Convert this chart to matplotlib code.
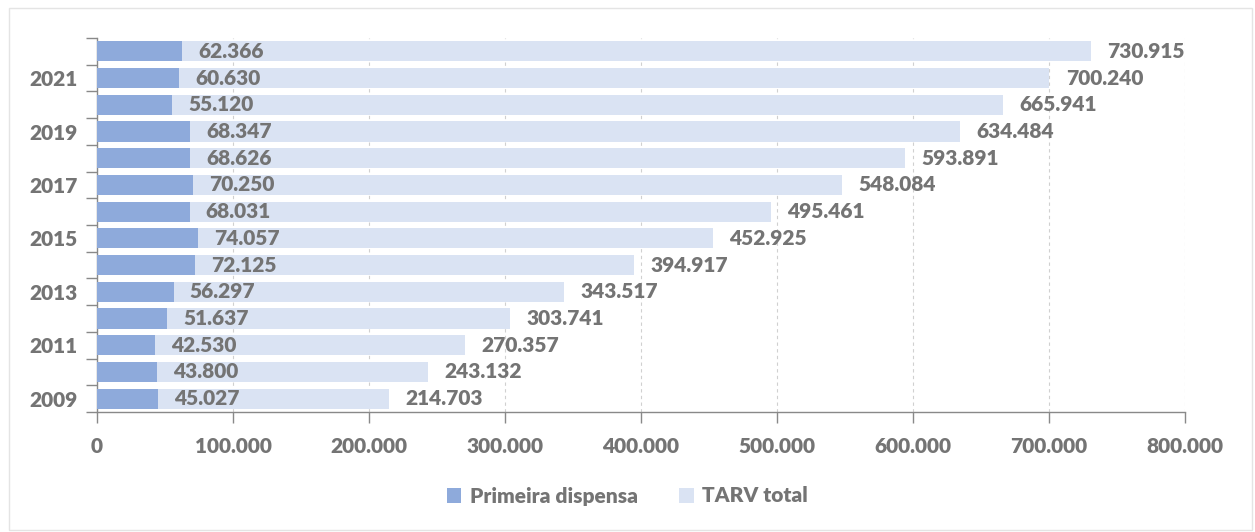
import matplotlib.pyplot as plt
from matplotlib.patches import Rectangle
from matplotlib.ticker import FuncFormatter, FixedLocator

years = list(range(2009, 2023))
primeira = [45027, 43800, 42530, 51637, 56297, 72125, 74057, 68031, 70250, 68626, 68347, 55120, 60630, 62366]
tarv_total = [214703, 243132, 270357, 303741, 343517, 394917, 452925, 495461, 548084, 593891, 634484, 665941, 700240, 730915]

DARK = "#8eaadb"
LIGHT = "#dae3f3"
GREY = "#747474"


def pt_fmt(v):
    return f"{int(round(v)):,}".replace(",", ".")


plt.rcParams["font.family"] = ["Lato", "DejaVu Sans"]
plt.rcParams["font.weight"] = "heavy"

fig = plt.figure(figsize=(12.55, 5.32), dpi=100)
ax = fig.add_axes([97 / 1255, 1 - 412 / 532, 1088 / 1255, 374 / 532])

pos = list(range(len(years)))
ax.barh(pos, tarv_total, height=0.75, color=LIGHT, label="TARV total", zorder=2)
ax.barh(pos, primeira, height=0.75, color=DARK, label="Primeira dispensa", zorder=3)

for y, p, t in zip(pos, primeira, tarv_total):
    ax.text(p + 12000, y, pt_fmt(p), va="center", ha="left", fontsize=15, color=GREY, zorder=4)
    ax.text(t + 12000, y, pt_fmt(t), va="center", ha="left", fontsize=15, color=GREY, zorder=4)

ax.set_xlim(0, 800000)
ax.set_ylim(-0.5, len(years) - 0.5)
ax.set_xticks(range(0, 800001, 100000))
ax.xaxis.set_major_formatter(FuncFormatter(lambda v, _: pt_fmt(v)))
ax.grid(axis="x", color="#d0d0d0", linestyle=(0, (3, 3)), linewidth=0.8, zorder=0)

ax.set_yticks([y for y, yr in zip(pos, years) if yr % 2 == 1])
ax.set_yticklabels([str(yr) for yr in years if yr % 2 == 1])
ax.yaxis.set_minor_locator(FixedLocator([y - 0.5 for y in range(len(years) + 1)]))
ax.tick_params(axis="y", which="major", length=0, pad=14, labelsize=15, labelcolor=GREY)
ax.tick_params(axis="y", which="minor", length=8, color="#898989", width=1)
ax.tick_params(axis="x", length=8, color="#898989", width=1, pad=10, labelsize=15, labelcolor=GREY)

for s in ["top", "right"]:
    ax.spines[s].set_visible(False)
for s in ["left", "bottom"]:
    ax.spines[s].set_color("#898989")
    ax.spines[s].set_linewidth(1)

handles, labels = ax.get_legend_handles_labels()
fig.legend(handles[::-1], labels[::-1], loc="center", bbox_to_anchor=(0.5, 1 - 496 / 532),
           ncol=2, frameon=False, fontsize=15, labelcolor=GREY, handlelength=0.7, handleheight=0.7,
           columnspacing=2.0, handletextpad=0.4)

fig.patches.append(Rectangle((9 / 1255, 2 / 532), 1243 / 1255, 522 / 532, transform=fig.transFigure,
                             fill=False, edgecolor="#e4e4e4", linewidth=1))

fig.savefig("out.png", dpi=100)
plt.close(fig)
